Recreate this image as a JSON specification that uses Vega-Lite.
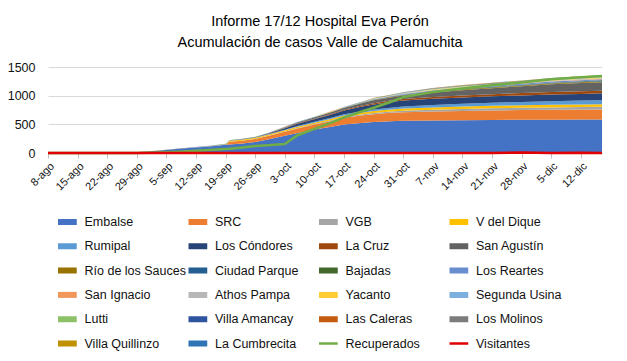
{
  "$schema": "https://vega.github.io/schema/vega-lite/v6.json",
  "width": 554,
  "height": 86,
  "autosize": {"type": "none"},
  "padding": {"left": 48, "top": 67, "right": 25, "bottom": 208},
  "background": "white",
  "config": {
    "view": {"stroke": null},
    "font": "Liberation Sans, Arial, sans-serif"
  },
  "title": {
    "text": ["Informe 17/12 Hospital Eva Perón", "Acumulación de casos Valle de Calamuchita"],
    "fontSize": 14.5,
    "fontWeight": "normal",
    "color": "#000000",
    "anchor": "middle",
    "offset": 10,
    "lineHeight": 21.7,
    "dx": -5
  },
  "datasets": {
    "orden": [
      {"serie": "Embalse", "o": 1}, {"serie": "SRC", "o": 2}, {"serie": "VGB", "o": 3}, {"serie": "V del Dique", "o": 4},
      {"serie": "Rumipal", "o": 5}, {"serie": "Los Cóndores", "o": 6}, {"serie": "La Cruz", "o": 7}, {"serie": "San Agustín", "o": 8},
      {"serie": "Río de los Sauces", "o": 9}, {"serie": "Ciudad Parque", "o": 10}, {"serie": "Bajadas", "o": 11}, {"serie": "Los Reartes", "o": 12},
      {"serie": "San Ignacio", "o": 13}, {"serie": "Athos Pampa", "o": 14}, {"serie": "Yacanto", "o": 15}, {"serie": "Segunda Usina", "o": 16},
      {"serie": "Lutti", "o": 17}, {"serie": "Villa Amancay", "o": 18}, {"serie": "Las Caleras", "o": 19}, {"serie": "Los Molinos", "o": 20},
      {"serie": "Villa Quillinzo", "o": 21}, {"serie": "La Cumbrecita", "o": 22}
    ]
  },
  "data": {"values": [
    {"fecha":"2020-08-08","Embalse":8,"SRC":0,"VGB":0,"V del Dique":0,"Rumipal":0,"Los Cóndores":0,"La Cruz":0,"San Agustín":0,"Río de los Sauces":0,"Ciudad Parque":0,"Bajadas":0,"Los Reartes":0,"San Ignacio":0,"Athos Pampa":0,"Yacanto":0,"Segunda Usina":0,"Lutti":0,"Villa Amancay":0,"Las Caleras":0,"Los Molinos":0,"Villa Quillinzo":0,"La Cumbrecita":0,"Recuperados":0,"Visitantes":0},
    {"fecha":"2020-08-15","Embalse":10,"SRC":0,"VGB":0,"V del Dique":0,"Rumipal":0,"Los Cóndores":0,"La Cruz":0,"San Agustín":0,"Río de los Sauces":0,"Ciudad Parque":0,"Bajadas":0,"Los Reartes":0,"San Ignacio":0,"Athos Pampa":0,"Yacanto":0,"Segunda Usina":0,"Lutti":0,"Villa Amancay":0,"Las Caleras":0,"Los Molinos":0,"Villa Quillinzo":0,"La Cumbrecita":0,"Recuperados":0,"Visitantes":0},
    {"fecha":"2020-08-22","Embalse":11,"SRC":0,"VGB":0,"V del Dique":0,"Rumipal":0,"Los Cóndores":0,"La Cruz":0,"San Agustín":0,"Río de los Sauces":0,"Ciudad Parque":0,"Bajadas":0,"Los Reartes":0,"San Ignacio":0,"Athos Pampa":0,"Yacanto":0,"Segunda Usina":0,"Lutti":0,"Villa Amancay":0,"Las Caleras":0,"Los Molinos":0,"Villa Quillinzo":0,"La Cumbrecita":0,"Recuperados":0,"Visitantes":0},
    {"fecha":"2020-08-29","Embalse":15,"SRC":0,"VGB":0,"V del Dique":0,"Rumipal":0,"Los Cóndores":0,"La Cruz":0,"San Agustín":0,"Río de los Sauces":1,"Ciudad Parque":0,"Bajadas":0,"Los Reartes":0,"San Ignacio":0,"Athos Pampa":0,"Yacanto":0,"Segunda Usina":0,"Lutti":0,"Villa Amancay":0,"Las Caleras":0,"Los Molinos":0,"Villa Quillinzo":0,"La Cumbrecita":0,"Recuperados":2,"Visitantes":0},
    {"fecha":"2020-09-01","Embalse":28,"SRC":0,"VGB":0,"V del Dique":0,"Rumipal":0,"Los Cóndores":0,"La Cruz":0,"San Agustín":0,"Río de los Sauces":1,"Ciudad Parque":0,"Bajadas":0,"Los Reartes":1,"San Ignacio":0,"Athos Pampa":0,"Yacanto":0,"Segunda Usina":0,"Lutti":0,"Villa Amancay":0,"Las Caleras":0,"Los Molinos":0,"Villa Quillinzo":0,"La Cumbrecita":0,"Recuperados":5,"Visitantes":0},
    {"fecha":"2020-09-05","Embalse":54,"SRC":0,"VGB":0,"V del Dique":0,"Rumipal":0,"Los Cóndores":0,"La Cruz":0,"San Agustín":2,"Río de los Sauces":1,"Ciudad Parque":0,"Bajadas":0,"Los Reartes":1,"San Ignacio":0,"Athos Pampa":0,"Yacanto":0,"Segunda Usina":0,"Lutti":0,"Villa Amancay":0,"Las Caleras":0,"Los Molinos":0,"Villa Quillinzo":0,"La Cumbrecita":0,"Recuperados":12,"Visitantes":0},
    {"fecha":"2020-09-08","Embalse":74,"SRC":0,"VGB":0,"V del Dique":0,"Rumipal":2,"Los Cóndores":0,"La Cruz":0,"San Agustín":2,"Río de los Sauces":1,"Ciudad Parque":0,"Bajadas":0,"Los Reartes":1,"San Ignacio":0,"Athos Pampa":0,"Yacanto":0,"Segunda Usina":0,"Lutti":0,"Villa Amancay":0,"Las Caleras":0,"Los Molinos":0,"Villa Quillinzo":0,"La Cumbrecita":0,"Recuperados":22,"Visitantes":0},
    {"fecha":"2020-09-12","Embalse":96,"SRC":0,"VGB":0,"V del Dique":2,"Rumipal":3,"Los Cóndores":0,"La Cruz":0,"San Agustín":2,"Río de los Sauces":1,"Ciudad Parque":0,"Bajadas":0,"Los Reartes":1,"San Ignacio":0,"Athos Pampa":0,"Yacanto":0,"Segunda Usina":0,"Lutti":0,"Villa Amancay":0,"Las Caleras":0,"Los Molinos":0,"Villa Quillinzo":0,"La Cumbrecita":0,"Recuperados":40,"Visitantes":0},
    {"fecha":"2020-09-15","Embalse":114,"SRC":0,"VGB":0,"V del Dique":3,"Rumipal":4,"Los Cóndores":0,"La Cruz":0,"San Agustín":2,"Río de los Sauces":1,"Ciudad Parque":0,"Bajadas":0,"Los Reartes":1,"San Ignacio":0,"Athos Pampa":0,"Yacanto":0,"Segunda Usina":0,"Lutti":0,"Villa Amancay":0,"Las Caleras":0,"Los Molinos":0,"Villa Quillinzo":0,"La Cumbrecita":0,"Recuperados":52,"Visitantes":0},
    {"fecha":"2020-09-19","Embalse":145,"SRC":0,"VGB":0,"V del Dique":5,"Rumipal":4,"Los Cóndores":0,"La Cruz":0,"San Agustín":3,"Río de los Sauces":1,"Ciudad Parque":0,"Bajadas":0,"Los Reartes":1,"San Ignacio":0,"Athos Pampa":0,"Yacanto":0,"Segunda Usina":0,"Lutti":1,"Villa Amancay":0,"Las Caleras":0,"Los Molinos":0,"Villa Quillinzo":0,"La Cumbrecita":0,"Recuperados":70,"Visitantes":0},
    {"fecha":"2020-09-20","Embalse":150,"SRC":45,"VGB":2,"V del Dique":15,"Rumipal":5,"Los Cóndores":2,"La Cruz":0,"San Agustín":3,"Río de los Sauces":1,"Ciudad Parque":0,"Bajadas":0,"Los Reartes":1,"San Ignacio":0,"Athos Pampa":0,"Yacanto":0,"Segunda Usina":0,"Lutti":1,"Villa Amancay":0,"Las Caleras":0,"Los Molinos":0,"Villa Quillinzo":0,"La Cumbrecita":0,"Recuperados":74,"Visitantes":0},
    {"fecha":"2020-09-23","Embalse":165,"SRC":50,"VGB":3,"V del Dique":16,"Rumipal":6,"Los Cóndores":3,"La Cruz":1,"San Agustín":3,"Río de los Sauces":1,"Ciudad Parque":0,"Bajadas":0,"Los Reartes":1,"San Ignacio":0,"Athos Pampa":0,"Yacanto":0,"Segunda Usina":0,"Lutti":1,"Villa Amancay":0,"Las Caleras":0,"Los Molinos":0,"Villa Quillinzo":0,"La Cumbrecita":0,"Recuperados":95,"Visitantes":0},
    {"fecha":"2020-09-26","Embalse":190,"SRC":55,"VGB":4,"V del Dique":16,"Rumipal":6,"Los Cóndores":3,"La Cruz":1,"San Agustín":3,"Río de los Sauces":1,"Ciudad Parque":0,"Bajadas":1,"Los Reartes":1,"San Ignacio":0,"Athos Pampa":0,"Yacanto":0,"Segunda Usina":0,"Lutti":1,"Villa Amancay":0,"Las Caleras":0,"Los Molinos":0,"Villa Quillinzo":0,"La Cumbrecita":0,"Recuperados":120,"Visitantes":0},
    {"fecha":"2020-09-29","Embalse":235,"SRC":60,"VGB":5,"V del Dique":18,"Rumipal":8,"Los Cóndores":10,"La Cruz":3,"San Agustín":5,"Río de los Sauces":1,"Ciudad Parque":0,"Bajadas":1,"Los Reartes":2,"San Ignacio":0,"Athos Pampa":1,"Yacanto":0,"Segunda Usina":0,"Lutti":1,"Villa Amancay":0,"Las Caleras":0,"Los Molinos":0,"Villa Quillinzo":0,"La Cumbrecita":0,"Recuperados":135,"Visitantes":0},
    {"fecha":"2020-10-03","Embalse":300,"SRC":70,"VGB":6,"V del Dique":20,"Rumipal":10,"Los Cóndores":25,"La Cruz":5,"San Agustín":10,"Río de los Sauces":1,"Ciudad Parque":1,"Bajadas":1,"Los Reartes":2,"San Ignacio":1,"Athos Pampa":1,"Yacanto":1,"Segunda Usina":0,"Lutti":1,"Villa Amancay":1,"Las Caleras":0,"Los Molinos":0,"Villa Quillinzo":0,"La Cumbrecita":0,"Recuperados":155,"Visitantes":0},
    {"fecha":"2020-10-06","Embalse":350,"SRC":78,"VGB":8,"V del Dique":22,"Rumipal":12,"Los Cóndores":40,"La Cruz":8,"San Agustín":15,"Río de los Sauces":2,"Ciudad Parque":1,"Bajadas":1,"Los Reartes":2,"San Ignacio":1,"Athos Pampa":1,"Yacanto":1,"Segunda Usina":1,"Lutti":1,"Villa Amancay":1,"Las Caleras":0,"Los Molinos":0,"Villa Quillinzo":0,"La Cumbrecita":0,"Recuperados":310,"Visitantes":0},
    {"fecha":"2020-10-10","Embalse":410,"SRC":85,"VGB":10,"V del Dique":24,"Rumipal":15,"Los Cóndores":45,"La Cruz":10,"San Agustín":20,"Río de los Sauces":2,"Ciudad Parque":1,"Bajadas":1,"Los Reartes":3,"San Ignacio":1,"Athos Pampa":1,"Yacanto":1,"Segunda Usina":1,"Lutti":2,"Villa Amancay":1,"Las Caleras":1,"Los Molinos":0,"Villa Quillinzo":0,"La Cumbrecita":0,"Recuperados":420,"Visitantes":0},
    {"fecha":"2020-10-14","Embalse":460,"SRC":100,"VGB":12,"V del Dique":26,"Rumipal":18,"Los Cóndores":55,"La Cruz":13,"San Agustín":25,"Río de los Sauces":2,"Ciudad Parque":1,"Bajadas":2,"Los Reartes":3,"San Ignacio":1,"Athos Pampa":2,"Yacanto":2,"Segunda Usina":1,"Lutti":2,"Villa Amancay":1,"Las Caleras":1,"Los Molinos":0,"Villa Quillinzo":0,"La Cumbrecita":0,"Recuperados":530,"Visitantes":0},
    {"fecha":"2020-10-17","Embalse":495,"SRC":118,"VGB":14,"V del Dique":28,"Rumipal":20,"Los Cóndores":65,"La Cruz":15,"San Agustín":28,"Río de los Sauces":3,"Ciudad Parque":1,"Bajadas":2,"Los Reartes":3,"San Ignacio":1,"Athos Pampa":2,"Yacanto":2,"Segunda Usina":1,"Lutti":2,"Villa Amancay":1,"Las Caleras":1,"Los Molinos":1,"Villa Quillinzo":0,"La Cumbrecita":0,"Recuperados":620,"Visitantes":0},
    {"fecha":"2020-10-21","Embalse":525,"SRC":130,"VGB":17,"V del Dique":31,"Rumipal":23,"Los Cóndores":80,"La Cruz":18,"San Agustín":38,"Río de los Sauces":4,"Ciudad Parque":2,"Bajadas":2,"Los Reartes":5,"San Ignacio":2,"Athos Pampa":2,"Yacanto":2,"Segunda Usina":2,"Lutti":3,"Villa Amancay":2,"Las Caleras":1,"Los Molinos":1,"Villa Quillinzo":0,"La Cumbrecita":0,"Recuperados":720,"Visitantes":0},
    {"fecha":"2020-10-24","Embalse":540,"SRC":138,"VGB":20,"V del Dique":34,"Rumipal":26,"Los Cóndores":90,"La Cruz":20,"San Agustín":50,"Río de los Sauces":5,"Ciudad Parque":3,"Bajadas":3,"Los Reartes":7,"San Ignacio":3,"Athos Pampa":3,"Yacanto":4,"Segunda Usina":3,"Lutti":4,"Villa Amancay":3,"Las Caleras":2,"Los Molinos":1,"Villa Quillinzo":1,"La Cumbrecita":0,"Recuperados":790,"Visitantes":0},
    {"fecha":"2020-10-28","Embalse":555,"SRC":145,"VGB":24,"V del Dique":36,"Rumipal":30,"Los Cóndores":100,"La Cruz":24,"San Agustín":55,"Río de los Sauces":6,"Ciudad Parque":3,"Bajadas":4,"Los Reartes":7,"San Ignacio":3,"Athos Pampa":4,"Yacanto":4,"Segunda Usina":3,"Lutti":4,"Villa Amancay":3,"Las Caleras":2,"Los Molinos":1,"Villa Quillinzo":1,"La Cumbrecita":0,"Recuperados":890,"Visitantes":0},
    {"fecha":"2020-10-31","Embalse":562,"SRC":148,"VGB":27,"V del Dique":38,"Rumipal":35,"Los Cóndores":104,"La Cruz":26,"San Agustín":62,"Río de los Sauces":7,"Ciudad Parque":4,"Bajadas":5,"Los Reartes":9,"San Ignacio":4,"Athos Pampa":5,"Yacanto":5,"Segunda Usina":4,"Lutti":6,"Villa Amancay":4,"Las Caleras":2,"Los Molinos":2,"Villa Quillinzo":1,"La Cumbrecita":0,"Recuperados":975,"Visitantes":0},
    {"fecha":"2020-11-07","Embalse":568,"SRC":155,"VGB":32,"V del Dique":40,"Rumipal":42,"Los Cóndores":108,"La Cruz":30,"San Agustín":80,"Río de los Sauces":10,"Ciudad Parque":5,"Bajadas":7,"Los Reartes":13,"San Ignacio":5,"Athos Pampa":6,"Yacanto":7,"Segunda Usina":5,"Lutti":8,"Villa Amancay":5,"Las Caleras":3,"Los Molinos":3,"Villa Quillinzo":2,"La Cumbrecita":1,"Recuperados":1065,"Visitantes":0},
    {"fecha":"2020-11-14","Embalse":572,"SRC":160,"VGB":35,"V del Dique":42,"Rumipal":48,"Los Cóndores":110,"La Cruz":34,"San Agustín":95,"Río de los Sauces":11,"Ciudad Parque":6,"Bajadas":7,"Los Reartes":14,"San Ignacio":6,"Athos Pampa":7,"Yacanto":7,"Segunda Usina":6,"Lutti":9,"Villa Amancay":6,"Las Caleras":4,"Los Molinos":3,"Villa Quillinzo":2,"La Cumbrecita":1,"Recuperados":1125,"Visitantes":0},
    {"fecha":"2020-11-21","Embalse":576,"SRC":165,"VGB":38,"V del Dique":43,"Rumipal":54,"Los Cóndores":112,"La Cruz":38,"San Agustín":105,"Río de los Sauces":12,"Ciudad Parque":6,"Bajadas":8,"Los Reartes":15,"San Ignacio":6,"Athos Pampa":8,"Yacanto":8,"Segunda Usina":6,"Lutti":9,"Villa Amancay":6,"Las Caleras":4,"Los Molinos":4,"Villa Quillinzo":2,"La Cumbrecita":1,"Recuperados":1180,"Visitantes":0},
    {"fecha":"2020-11-28","Embalse":580,"SRC":168,"VGB":40,"V del Dique":44,"Rumipal":58,"Los Cóndores":114,"La Cruz":41,"San Agustín":120,"Río de los Sauces":12,"Ciudad Parque":7,"Bajadas":8,"Los Reartes":16,"San Ignacio":7,"Athos Pampa":8,"Yacanto":8,"Segunda Usina":7,"Lutti":10,"Villa Amancay":6,"Las Caleras":4,"Los Molinos":4,"Villa Quillinzo":2,"La Cumbrecita":1,"Recuperados":1230,"Visitantes":10},
    {"fecha":"2020-12-05","Embalse":582,"SRC":171,"VGB":42,"V del Dique":45,"Rumipal":63,"Los Cóndores":116,"La Cruz":43,"San Agustín":135,"Río de los Sauces":14,"Ciudad Parque":7,"Bajadas":9,"Los Reartes":18,"San Ignacio":7,"Athos Pampa":9,"Yacanto":9,"Segunda Usina":7,"Lutti":11,"Villa Amancay":8,"Las Caleras":5,"Los Molinos":5,"Villa Quillinzo":2,"La Cumbrecita":2,"Recuperados":1285,"Visitantes":0},
    {"fecha":"2020-12-12","Embalse":584,"SRC":173,"VGB":44,"V del Dique":46,"Rumipal":67,"Los Cóndores":117,"La Cruz":45,"San Agustín":143,"Río de los Sauces":15,"Ciudad Parque":8,"Bajadas":10,"Los Reartes":19,"San Ignacio":8,"Athos Pampa":10,"Yacanto":10,"Segunda Usina":7,"Lutti":12,"Villa Amancay":8,"Las Caleras":5,"Los Molinos":5,"Villa Quillinzo":2,"La Cumbrecita":2,"Recuperados":1320,"Visitantes":6},
    {"fecha":"2020-12-17","Embalse":585,"SRC":175,"VGB":45,"V del Dique":47,"Rumipal":70,"Los Cóndores":118,"La Cruz":46,"San Agustín":148,"Río de los Sauces":15,"Ciudad Parque":8,"Bajadas":10,"Los Reartes":20,"San Ignacio":8,"Athos Pampa":10,"Yacanto":10,"Segunda Usina":8,"Lutti":12,"Villa Amancay":8,"Las Caleras":5,"Los Molinos":5,"Villa Quillinzo":2,"La Cumbrecita":2,"Recuperados":1343,"Visitantes":0}
  ]},
  "encoding": {
    "x": {
      "field": "fecha",
      "type": "temporal",
      "title": null,
      "scale": {"type": "utc", "domain": [{"year": 2020, "month": 8, "date": 8, "utc": true}, {"year": 2020, "month": 12, "date": 17, "utc": true}]},
      "axis": {
        "values": [
          {"year": 2020, "month": 8, "date": 8, "utc": true}, {"year": 2020, "month": 8, "date": 15, "utc": true},
          {"year": 2020, "month": 8, "date": 22, "utc": true}, {"year": 2020, "month": 8, "date": 29, "utc": true},
          {"year": 2020, "month": 9, "date": 5, "utc": true}, {"year": 2020, "month": 9, "date": 12, "utc": true},
          {"year": 2020, "month": 9, "date": 19, "utc": true}, {"year": 2020, "month": 9, "date": 26, "utc": true},
          {"year": 2020, "month": 10, "date": 3, "utc": true}, {"year": 2020, "month": 10, "date": 10, "utc": true},
          {"year": 2020, "month": 10, "date": 17, "utc": true}, {"year": 2020, "month": 10, "date": 24, "utc": true},
          {"year": 2020, "month": 10, "date": 31, "utc": true}, {"year": 2020, "month": 11, "date": 7, "utc": true},
          {"year": 2020, "month": 11, "date": 14, "utc": true}, {"year": 2020, "month": 11, "date": 21, "utc": true},
          {"year": 2020, "month": 11, "date": 28, "utc": true}, {"year": 2020, "month": 12, "date": 5, "utc": true},
          {"year": 2020, "month": 12, "date": 12, "utc": true}
        ],
        "labelExpr": "utcdate(datum.value) + '-' + ['ene','feb','mar','abr','may','jun','jul','ago','sep','oct','nov','dic'][utcmonth(datum.value)]",
        "labelAngle": -45,
        "labelFontSize": 11,
        "labelColor": "#111111",
        "labelOverlap": false,
        "labelBound": false,
        "labelFlush": false,
        "grid": false,
        "tickSize": 5,
        "tickColor": "#BFBFBF",
        "domainColor": "#BFBFBF",
        "labelPadding": 2
      }
    },
    "y": {
      "field": "casos",
      "type": "quantitative",
      "title": null,
      "scale": {"domain": [0, 1500]},
      "axis": {
        "values": [0, 500, 1000, 1500],
        "format": "d",
        "domain": false,
        "ticks": false,
        "gridColor": "#D9D9D9",
        "labelFontSize": 12.5,
        "labelColor": "#111111",
        "labelPadding": 13
      }
    }
  },
  "layer": [
    {
      "transform": [
        {"fold": ["Embalse","SRC","VGB","V del Dique","Rumipal","Los Cóndores","La Cruz","San Agustín","Río de los Sauces","Ciudad Parque","Bajadas","Los Reartes","San Ignacio","Athos Pampa","Yacanto","Segunda Usina","Lutti","Villa Amancay","Las Caleras","Los Molinos","Villa Quillinzo","La Cumbrecita"], "as": ["serie", "casos"]},
        {"lookup": "serie", "from": {"data": {"name": "orden"}, "key": "serie", "fields": ["o"]}}
      ],
      "mark": {"type": "area", "opacity": 1, "interpolate": "linear"},
      "encoding": {
        "y": {"field": "casos", "type": "quantitative", "stack": "zero"},
        "order": {"field": "o", "type": "quantitative", "sort": "ascending"},
        "color": {
          "field": "serie",
          "type": "nominal",
          "scale": {
            "domain": ["Embalse","SRC","VGB","V del Dique","Rumipal","Los Cóndores","La Cruz","San Agustín","Río de los Sauces","Ciudad Parque","Bajadas","Los Reartes","San Ignacio","Athos Pampa","Yacanto","Segunda Usina","Lutti","Villa Amancay","Las Caleras","Los Molinos","Villa Quillinzo","La Cumbrecita","Recuperados","Visitantes"],
            "range": ["#4472C4","#ED7D31","#A5A5A5","#FFC000","#5B9BD5","#264478","#9E480E","#636363","#997300","#255E91","#43682B","#698ED0","#F1975A","#B7B7B7","#FFCD33","#7CAFDD","#8CC168","#2F55A0","#C55A11","#7C7C7C","#BF9000","#2E75B6","#70AD47","#E00000"]
          },
          "legend": {
            "title": null,
            "orient": "none",
            "legendX": 10,
            "legendY": 145,
            "columns": 4,
            "direction": "horizontal",
            "gridAlign": "all",
            "columnPadding": 2.5,
            "rowPadding": 4.3,
            "clipHeight": 20,
            "symbolType": "stroke",
            "symbolSize": 625,
            "symbolStrokeWidth": 6,
            "symbolOpacity": 1,
            "labelOffset": 14,
            "labelFontSize": 12.5,
            "labelColor": "#111111",
            "labelLimit": 200,
            "encode": {
              "symbols": {
                "update": {
                  "stroke": {"signal": "scale('color', datum.value)"},
                  "strokeWidth": {"signal": "datum.value === 'Recuperados' || datum.value === 'Visitantes' ? 2.5 : 6"}
                }
              }
            }
          }
        }
      }
    },
    {
      "transform": [{"fold": ["Recuperados", "Visitantes"], "as": ["serie", "casos"]}],
      "mark": {"type": "line", "strokeWidth": 2.5, "interpolate": "linear"},
      "encoding": {
        "y": {"field": "casos", "type": "quantitative", "stack": null},
        "color": {"field": "serie", "type": "nominal", "legend": null}
      }
    }
  ]
}
